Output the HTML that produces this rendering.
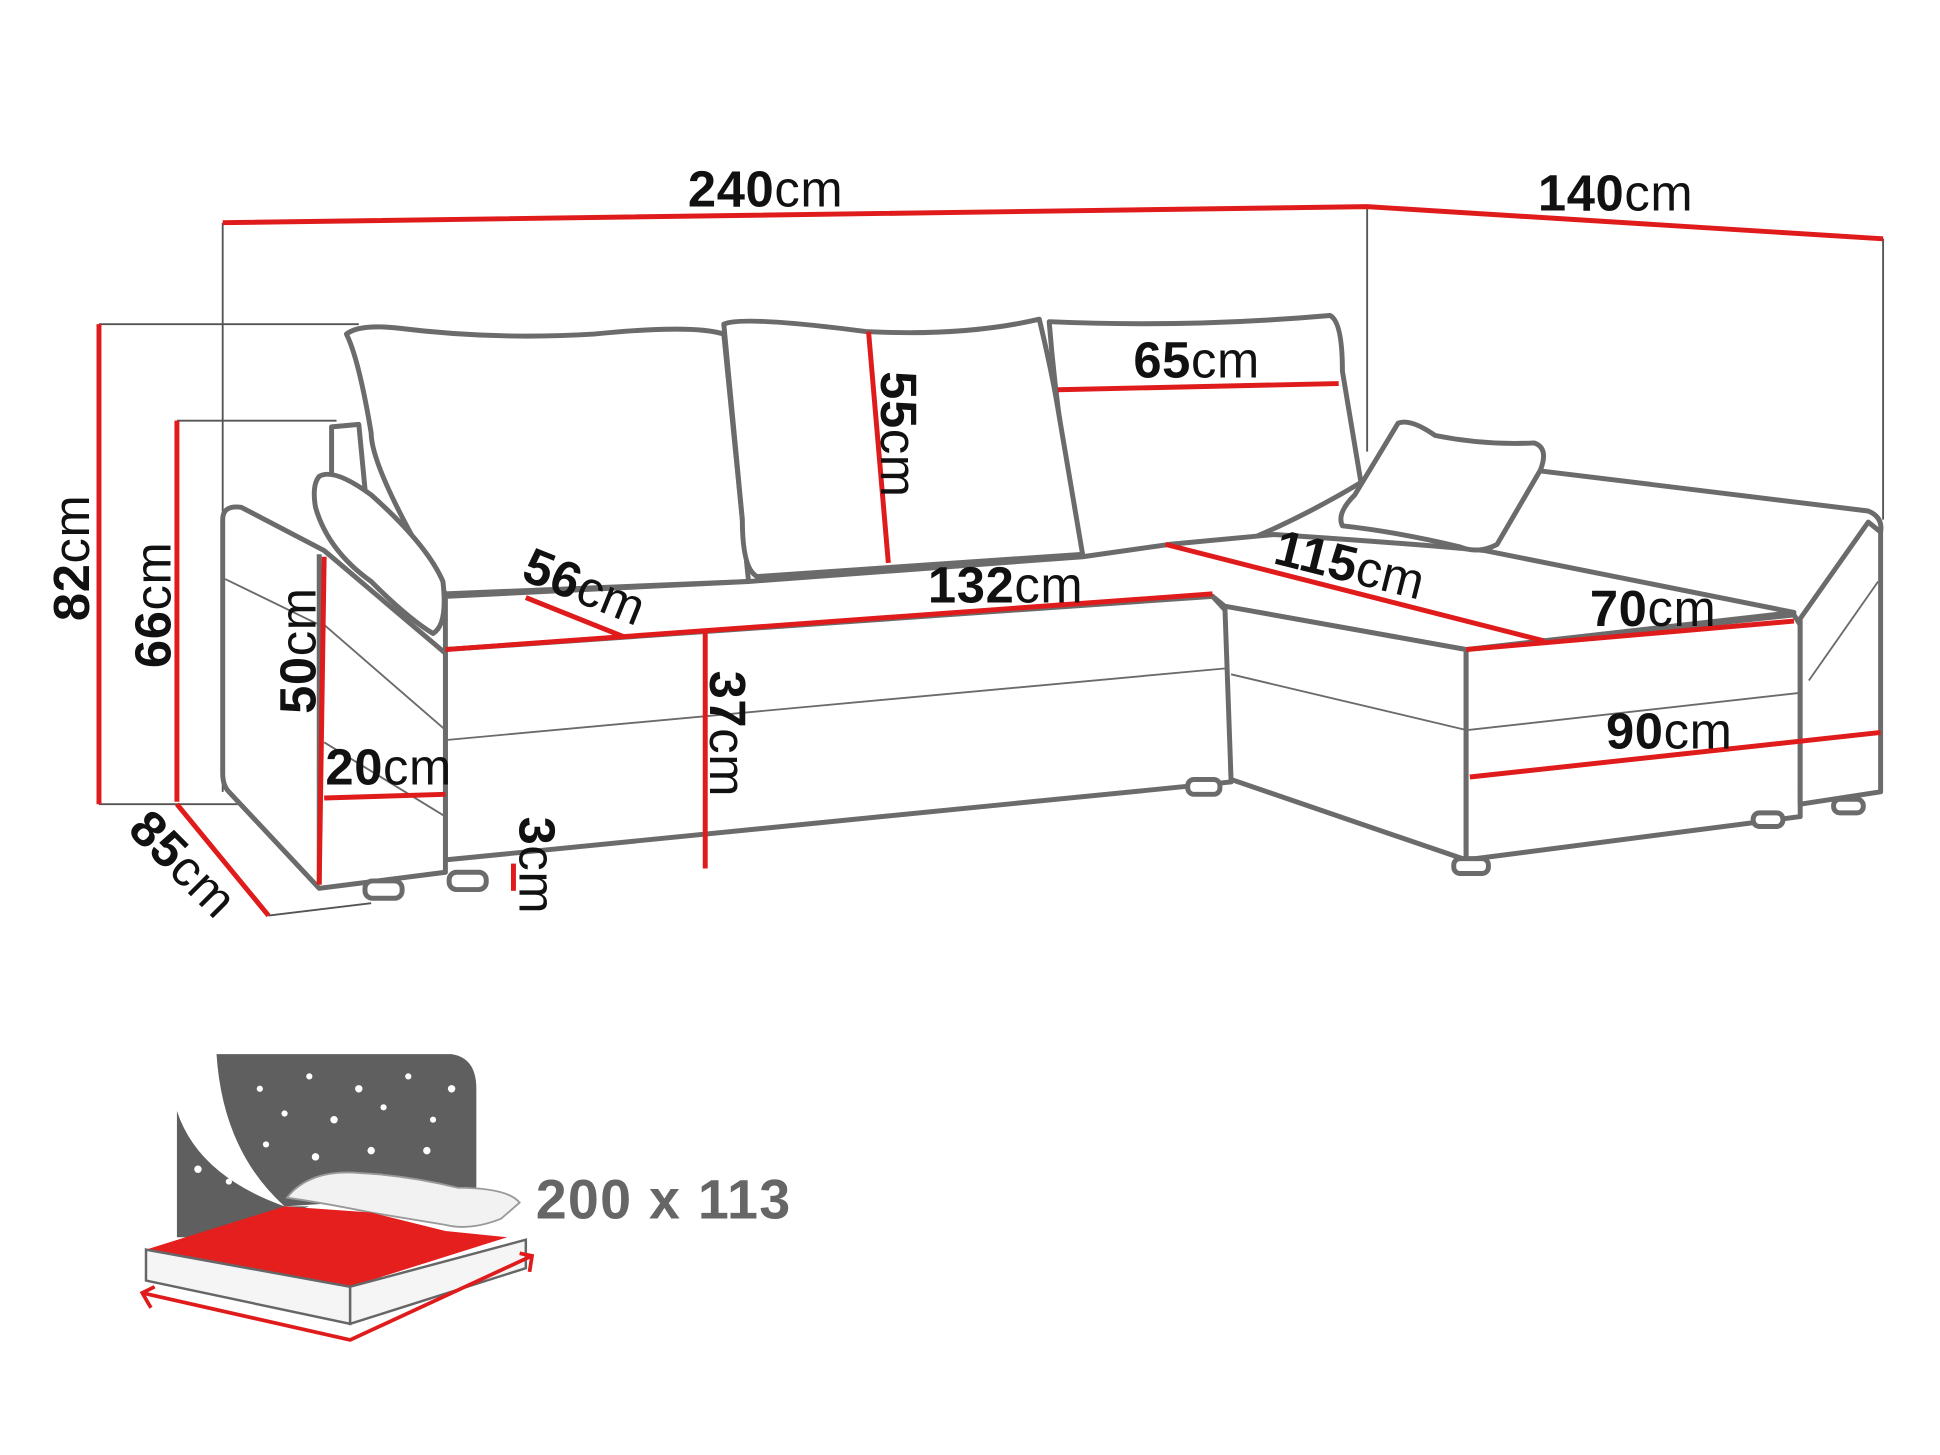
<!DOCTYPE html>
<html><head><meta charset="utf-8"><style>
html,body{margin:0;padding:0;background:#fff}
svg{display:block}
.t{font-family:"Liberation Sans",sans-serif;font-size:41px;fill:#111;letter-spacing:0.5px}
.t tspan.b{font-weight:bold}
</style></head><body>
<svg width="1940" height="1455" viewBox="0 0 1568 1176" xmlns="http://www.w3.org/2000/svg">
<rect width="1568" height="1176" fill="#fff"/>
<g stroke="#555" stroke-width="1.5" fill="none">
<line x1="180" y1="180" x2="180" y2="640"/>
<line x1="1105" y1="167" x2="1105" y2="365"/>
<line x1="1522" y1="193" x2="1522" y2="420"/>
<line x1="80" y1="262" x2="290" y2="262"/>
<line x1="80" y1="650" x2="192" y2="650"/>
<line x1="143" y1="340" x2="272" y2="340"/>
<line x1="217" y1="740" x2="300" y2="730"/>
</g>
<g stroke="#6b6b6b" stroke-width="4" fill="#fff" stroke-linejoin="round">
<path d="M1240,380 L1510,413 Q1522,418 1520,430 L1520,630 L1455,650 L1455,500 Z" stroke="none"/>
<path d="M1240,380 L1510,413 Q1522,418 1520,430" fill="none"/>
<path d="M280,270 Q290,262 320,265 Q400,275 480,270 Q560,262 585,270 L605,470 L360,480 Q300,380 300,350 Q290,290 280,270 Z"/>
<path d="M848,260 Q960,265 1075,255 Q1085,260 1085,300 L1100,390 Q1050,420 1000,440 L875,450 Q855,350 848,260 Z"/>
<path d="M585,262 Q600,255 700,268 Q780,272 840,258 Q850,300 855,330 L875,448 L612,466 Q600,460 600,420 L585,262 Z"/>
<path d="M360,525 L360,482 L605,470 L875,450 L945,440 L1030,432 Q1150,440 1200,445 L1450,495 L1185,525 L990,490 L980,482 Z"/>
<path d="M1130,342 Q1140,338 1160,352 Q1200,360 1240,358 Q1252,362 1245,380 L1210,440 Q1195,448 1180,442 Q1130,430 1085,425 Q1080,415 1095,400 Z"/>
<path d="M360,525 L980,482 L992,495 L995,632 L360,695 Z"/>
<line x1="362" y1="598" x2="993" y2="540" stroke-width="1.5"/>
<path d="M990,490 L1185,525 L1185,695 L995,630 Z"/>
<path d="M1185,525 L1450,497 L1455,505 L1455,660 L1185,695 Z"/>
<line x1="995" y1="545" x2="1185" y2="590" stroke-width="1.5"/>
<line x1="1187" y1="590" x2="1455" y2="560" stroke-width="1.5"/>
<path d="M1455,500 L1510,422 L1520,430 L1520,640 L1455,650 Z"/>
<line x1="1462" y1="550" x2="1518" y2="470" stroke-width="1.5"/>
<path d="M180,420 Q180,408 195,410 L262,445 L360,528 L360,705 L258,718 L185,640 Q180,635 180,625 Z"/>
<line x1="258" y1="448" x2="258" y2="715"/>
<line x1="182" y1="468" x2="258" y2="505" stroke-width="1.5"/>
<line x1="262" y1="505" x2="360" y2="590" stroke-width="1.5"/>
<line x1="262" y1="600" x2="360" y2="660" stroke-width="1.5"/>
<path d="M268,345 L290,343 L295,395 L268,400 Z"/>
<path d="M258,385 Q270,378 300,400 Q345,440 358,470 Q362,505 350,512 Q330,500 300,470 Q265,445 255,410 Q252,392 258,385 Z"/>
<rect x="295" y="712" width="30" height="14" rx="6"/>
<rect x="363" y="705" width="30" height="14" rx="6"/>
<rect x="960" y="630" width="26" height="12" rx="5"/>
<rect x="1175" y="694" width="28" height="12" rx="5"/>
<rect x="1417" y="657" width="24" height="11" rx="5"/>
<rect x="1482" y="646" width="24" height="11" rx="5"/>
</g>
<g stroke="#e01b1b" stroke-width="4" fill="none">
<polyline points="180,180 1105,167 1522,193"/>
<line x1="80" y1="262" x2="80" y2="650"/>
<line x1="143" y1="340" x2="143" y2="648"/>
<line x1="143" y1="650" x2="217" y2="740"/>
<line x1="855" y1="315" x2="1082" y2="310"/>
<line x1="702" y1="268" x2="718" y2="455"/>
<line x1="425" y1="483" x2="505" y2="515"/>
<line x1="360" y1="525" x2="980" y2="480"/>
<line x1="570" y1="510" x2="570" y2="702"/>
<line x1="262" y1="450" x2="258" y2="715"/>
<line x1="262" y1="645" x2="360" y2="642"/>
<line x1="415" y1="698" x2="415" y2="720"/>
<line x1="942" y1="440" x2="1248" y2="518"/>
<line x1="1185" y1="525" x2="1450" y2="502"/>
<line x1="1188" y1="628" x2="1520" y2="592"/>
</g>
<text class="t" x="556" y="167"><tspan class="b">240</tspan>cm</text>
<text class="t" x="1243" y="170"><tspan class="b">140</tspan>cm</text>
<text class="t" x="916" y="305"><tspan class="b">65</tspan>cm</text>
<text class="t" x="750" y="487"><tspan class="b">132</tspan>cm</text>
<text class="t" x="1285" y="506"><tspan class="b">70</tspan>cm</text>
<text class="t" x="1298" y="605"><tspan class="b">90</tspan>cm</text>
<text class="t" x="263" y="634"><tspan class="b">20</tspan>cm</text>
<text class="t" transform="translate(712,300) rotate(90)"><tspan class="b">55</tspan>cm</text>
<text class="t" transform="translate(574,542) rotate(90)"><tspan class="b">37</tspan>cm</text>
<text class="t" transform="translate(420,660) rotate(90)"><tspan class="b">3</tspan>cm</text>
<text class="t" transform="translate(255,577) rotate(-90)"><tspan class="b">50</tspan>cm</text>
<text class="t" transform="translate(72,502) rotate(-90)"><tspan class="b">82</tspan>cm</text>
<text class="t" transform="translate(138,540) rotate(-90)"><tspan class="b">66</tspan>cm</text>
<text class="t" transform="translate(420,468) rotate(22)"><tspan class="b">56</tspan>cm</text>
<text class="t" transform="translate(1028,455) rotate(14)"><tspan class="b">115</tspan>cm</text>
<text class="t" transform="translate(102,672) rotate(45)"><tspan class="b">85</tspan>cm</text>
<path d="M175,852 L365,852 Q385,855 385,880 L385,965 L230,975 Q180,930 175,852 Z" fill="#5f5f5f"/>
<path d="M143,898 Q160,950 230,975 L250,975 L175,1000 L143,1000 Z" fill="#5f5f5f"/>
<g fill="#fff">
<circle cx="210" cy="880" r="2.5"/><circle cx="250" cy="870" r="2.5"/><circle cx="290" cy="880" r="3"/><circle cx="330" cy="870" r="2.5"/><circle cx="365" cy="880" r="3"/>
<circle cx="230" cy="900" r="2.5"/><circle cx="270" cy="905" r="3"/><circle cx="310" cy="895" r="2.5"/><circle cx="350" cy="905" r="2.5"/>
<circle cx="215" cy="925" r="2.5"/><circle cx="255" cy="935" r="3"/><circle cx="300" cy="930" r="3"/><circle cx="345" cy="930" r="3"/><circle cx="160" cy="945" r="3"/><circle cx="185" cy="955" r="2.5"/>
</g>
<path d="M232,968 Q250,945 290,948 Q330,950 370,960 Q410,960 420,972 L405,985 Q380,995 360,990 Q330,985 300,980 Q260,972 232,968 Z" fill="#f2f2f2" stroke="#999" stroke-width="1.5"/>
<path d="M118,1010 L230,975 L300,980 L360,995 L410,1000 L283,1040 Z" fill="#e51e1e"/>
<path d="M118,1010 L283,1040 L283,1070 L118,1035 Z" fill="#f5f5f5" stroke="#666" stroke-width="2"/>
<path d="M283,1040 L425,1002 L425,1025 L283,1070 Z" fill="#f5f5f5" stroke="#666" stroke-width="2"/>
<g stroke="#e01b1b" stroke-width="3" fill="none">
<polyline points="115,1045 283,1083 430,1015"/>
<polyline points="125,1040 115,1045 122,1057"/>
<polyline points="420,1013 430,1015 428,1028"/>
</g>
<text x="433" y="985" font-family="Liberation Sans,sans-serif" font-weight="bold" font-size="45" fill="#666" letter-spacing="1">200 x 113</text>
</svg>
</body></html>
